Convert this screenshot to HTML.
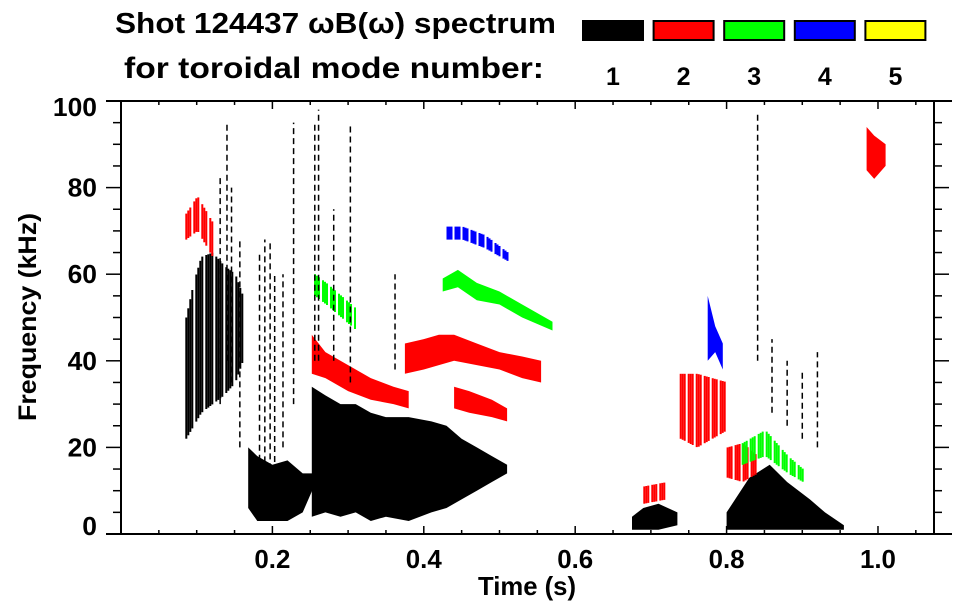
<!DOCTYPE html>
<html><head><meta charset="utf-8">
<style>
html,body{margin:0;padding:0;background:#fff;}
svg{display:block;}
text{font-family:"Liberation Sans",Arial,sans-serif;font-weight:bold;fill:#000;}
</style></head>
<body>
<svg id="chart" width="963" height="615" viewBox="0 0 963 615" xmlns="http://www.w3.org/2000/svg">
  <rect x="0" y="0" width="963" height="615" fill="#fff"/>
  <text x="115" y="33" font-size="29" textLength="441" lengthAdjust="spacingAndGlyphs">Shot 124437 ωB(ω) spectrum</text>
  <text x="124" y="78" font-size="30" textLength="420" lengthAdjust="spacingAndGlyphs">for toroidal mode number:</text>
  <g id="legend"></g>
  <g id="marks"></g>
  <g id="axes"></g>
  <text x="527" y="595" font-size="26" text-anchor="middle" textLength="98" lengthAdjust="spacingAndGlyphs">Time (s)</text>
  <text transform="translate(36,317) rotate(-90)" font-size="25" text-anchor="middle" textLength="208" lengthAdjust="spacingAndGlyphs">Frequency (kHz)</text>
</svg>
<script>
// ---- data ----
const modeNumbers = [1, 2, 3, 4, 5];
const modeColors = ["#000000", "#ff0000", "#00ff00", "#0000ff", "#ffff00"];
const xTicks = [0.2, 0.4, 0.6, 0.8, 1.0];
const xTickLabels = ["0.2", "0.4", "0.6", "0.8", "1.0"];
const yTicks = [0, 20, 40, 60, 80, 100];
const yTickLabels = ["0", "20", "40", "60", "80", "100"];

// mode features: times (s), low and high frequency edges (kHz)
const n1aT = [0.085, 0.095, 0.105, 0.12, 0.135, 0.15, 0.16];
const n1aLo = [22, 25, 28, 30, 32, 35, 40];
const n1aHi = [50, 58, 64, 65, 62, 60, 55];
const n1bT = [0.168, 0.18, 0.2, 0.22, 0.24, 0.255];
const n1bLo = [6, 3, 3, 3, 5, 11];
const n1bHi = [20, 18, 16, 17, 14, 14];
const n1cT = [0.252, 0.27, 0.29, 0.31, 0.33, 0.35, 0.38, 0.41, 0.43, 0.45, 0.47, 0.49, 0.51];
const n1cLo = [4, 5, 4, 5, 3, 4, 3, 5, 6, 8, 10, 12, 14];
const n1cHi = [34, 32, 30, 30, 28, 27, 27, 26, 25, 22, 20, 18, 16];
const n1dT = [0.675, 0.69, 0.71, 0.735];
const n1dLo = [1, 1, 1, 2];
const n1dHi = [4, 6, 7, 5];
const n1eT = [0.8, 0.83, 0.857, 0.88, 0.91, 0.93, 0.955];
const n1eLo = [1, 1, 1, 1, 1, 1, 1];
const n1eHi = [5, 13, 16, 12, 8, 5, 2];
const n2aT = [0.085, 0.1, 0.12];
const n2aLo = [68, 70, 64];
const n2aHi = [74, 78, 72];
const n2bT = [0.252, 0.27, 0.3, 0.33, 0.36, 0.38];
const n2bLo = [37, 36, 33, 31, 30, 29];
const n2bHi = [46, 42, 39, 36, 34, 33];
const n2cT = [0.375, 0.4, 0.42, 0.44, 0.47, 0.5, 0.53, 0.555];
const n2cLo = [37, 38, 39, 40, 39, 38, 36, 35];
const n2cHi = [44, 45, 46, 46, 44, 42, 41, 40];
const n2dT = [0.44, 0.46, 0.49, 0.51];
const n2dLo = [29, 28, 27, 26];
const n2dHi = [34, 33, 31, 29];
const n2eT = [0.738, 0.76, 0.78, 0.8];
const n2eLo = [22, 20, 22, 24];
const n2eHi = [37, 37, 36, 35];
const n2fT = [0.8, 0.82, 0.84];
const n2fLo = [13, 12, 14];
const n2fHi = [20, 21, 18];
const n2gT = [0.69, 0.72];
const n2gLo = [7, 8];
const n2gHi = [11, 12];
const n2hT = [0.985, 0.995, 1.01];
const n2hLo = [84, 82, 85];
const n2hHi = [94, 92, 90];
const n3aT = [0.255, 0.27, 0.29, 0.31];
const n3aLo = [55, 53, 50, 47];
const n3aHi = [60, 58, 55, 52];
const n3bT = [0.425, 0.445, 0.47, 0.5, 0.53, 0.57];
const n3bLo = [56, 57, 54, 53, 50, 47];
const n3bHi = [59, 61, 58, 56, 53, 49];
const n3cT = [0.82, 0.85, 0.88, 0.9];
const n3cLo = [16, 18, 14, 12];
const n3cHi = [21, 24, 18, 15];
const n4aT = [0.43, 0.45, 0.48, 0.51];
const n4aLo = [68, 68, 66, 63];
const n4aHi = [71, 71, 69, 65];
const n4bT = [0.775, 0.785, 0.795];
const n4bLo = [40, 42, 38];
const n4bHi = [55, 48, 44];

// thin vertical bursts (mode 1): time, low, high
const spikeT = [0.131, 0.14, 0.146, 0.157, 0.183, 0.19, 0.197, 0.203, 0.214, 0.228, 0.256, 0.261, 0.281, 0.303, 0.362, 0.841, 0.86, 0.88, 0.9, 0.92];
const spikeLo = [30, 40, 35, 20, 10, 5, 8, 12, 20, 30, 40, 40, 40, 35, 38, 40, 28, 25, 22, 20];
const spikeHi = [83, 95, 80, 68, 65, 68, 68, 60, 60, 95, 95, 98, 75, 95, 60, 97, 45, 40, 38, 42];

const features = [
  {mode: 1, name: "n1-burst-early", t: n1aT, lo: n1aLo, hi: n1aHi, striped: true, dense: true},
  {mode: 1, name: "n1-band-low", t: n1bT, lo: n1bLo, hi: n1bHi},
  {mode: 1, name: "n1-band-main", t: n1cT, lo: n1cLo, hi: n1cHi},
  {mode: 1, name: "n1-late-small", t: n1dT, lo: n1dLo, hi: n1dHi},
  {mode: 1, name: "n1-late-main", t: n1eT, lo: n1eLo, hi: n1eHi},
  {mode: 2, name: "n2-early", t: n2aT, lo: n2aLo, hi: n2aHi, striped: true},
  {mode: 2, name: "n2-chirp-1", t: n2bT, lo: n2bLo, hi: n2bHi},
  {mode: 2, name: "n2-chirp-2", t: n2cT, lo: n2cLo, hi: n2cHi},
  {mode: 2, name: "n2-chirp-3", t: n2dT, lo: n2dLo, hi: n2dHi},
  {mode: 2, name: "n2-late-stripes", t: n2eT, lo: n2eLo, hi: n2eHi, striped: true},
  {mode: 2, name: "n2-late-low", t: n2fT, lo: n2fLo, hi: n2fHi, striped: true},
  {mode: 2, name: "n2-late-small", t: n2gT, lo: n2gLo, hi: n2gHi, striped: true},
  {mode: 2, name: "n2-high", t: n2hT, lo: n2hLo, hi: n2hHi},
  {mode: 3, name: "n3-chirp-1", t: n3aT, lo: n3aLo, hi: n3aHi, striped: true},
  {mode: 3, name: "n3-chirp-2", t: n3bT, lo: n3bLo, hi: n3bHi},
  {mode: 3, name: "n3-late", t: n3cT, lo: n3cLo, hi: n3cHi, striped: true},
  {mode: 4, name: "n4-chirp", t: n4aT, lo: n4aLo, hi: n4aHi, striped: true},
  {mode: 4, name: "n4-late", t: n4bT, lo: n4bLo, hi: n4bHi}
];

// ---- axes mapping ----
const X0 = 121, X1 = 934, Y0 = 534, Y1 = 101;
const T_MIN = 0, T_MAX = 1.074, F_MIN = 0, F_MAX = 100;
function xScale(t) { return X0 + (t - T_MIN) / (T_MAX - T_MIN) * (X1 - X0); }
function yScale(f) { return Y0 - (f - F_MIN) / (F_MAX - F_MIN) * (Y0 - Y1); }
const NS = "http://www.w3.org/2000/svg";
function mk(tag, attrs, parent) {
  const e = document.createElementNS(NS, tag);
  for (const k in attrs) e.setAttribute(k, attrs[k]);
  parent.appendChild(e);
  return e;
}
function interp(ts, vs, t) {
  if (t <= ts[0]) return vs[0];
  for (let i = 1; i < ts.length; i++) {
    if (t <= ts[i]) { const u = (t - ts[i-1]) / (ts[i] - ts[i-1]); return vs[i-1] + u * (vs[i] - vs[i-1]); }
  }
  return vs[vs.length - 1];
}

// legend
const legend = document.getElementById("legend");
modeNumbers.forEach((m, i) => {
  const bx = 582 + i * 70.6;
  const r = mk("rect", {x: bx + 1, y: 21, width: 60, height: 19, fill: modeColors[i], stroke: "#000", "stroke-width": 2}, legend);
  
  
  const tx = mk("text", {x: bx + 31, y: 85, "font-size": 25, "text-anchor": "middle"}, legend);
  tx.textContent = String(m);
  
  
});

// marks
const marks = document.getElementById("marks");
features.forEach((f) => {
  const g = mk("g", {}, marks);
  
  
  const color = modeColors[f.mode - 1];
  if (!f.striped) {
    let pts = [];
    for (let i = 0; i < f.t.length; i++) pts.push(xScale(f.t[i]).toFixed(1) + "," + yScale(f.hi[i]).toFixed(1));
    for (let i = f.t.length - 1; i >= 0; i--) pts.push(xScale(f.t[i]).toFixed(1) + "," + yScale(f.lo[i]).toFixed(1));
    mk("polygon", {points: pts.join(" "), fill: color}, g);
  } else {
    const xa = xScale(f.t[0]), xb = xScale(f.t[f.t.length - 1]);
    const skip = f.dense ? 5 : 4;
    for (let x = xa, k = 0; x <= xb; x += 2, k++) {
      if (k % skip === skip - 1) continue;
      const t = T_MIN + (x - X0) / (X1 - X0) * (T_MAX - T_MIN);
      const lo = interp(f.t, f.lo, t), hi = interp(f.t, f.hi, t);
      mk("rect", {x: x.toFixed(1), y: yScale(hi).toFixed(1), width: 2, height: (yScale(lo) - yScale(hi)).toFixed(1), fill: color}, g);
    }
  }
});
spikeT.forEach((t, i) => {
  const l = mk("line", {x1: xScale(t), x2: xScale(t), y1: yScale(spikeLo[i]), y2: yScale(spikeHi[i]), stroke: "#000", "stroke-width": 1.5, "stroke-dasharray": "6 4"}, marks);
  
  
});

// axes
const axes = document.getElementById("axes");
mk("line", {x1: 106, x2: 952, y1: Y1, y2: Y1, stroke: "#000", "stroke-width": 2}, axes);
mk("line", {x1: 106, x2: 952, y1: Y0, y2: Y0, stroke: "#000", "stroke-width": 2}, axes);
mk("line", {x1: X0, x2: X0, y1: Y1, y2: Y0, stroke: "#000", "stroke-width": 2}, axes);
mk("line", {x1: X1, x2: X1, y1: Y1, y2: Y0, stroke: "#000", "stroke-width": 2}, axes);
for (let t = 0.05; t < T_MAX; t += 0.05) {
  const major = Math.abs(t / 0.2 - Math.round(t / 0.2)) < 1e-6;
  const x = xScale(t), len = major ? 8 : 4;
  mk("line", {x1: x, x2: x, y1: Y0, y2: Y0 - len, stroke: "#000", "stroke-width": 1.5}, axes);
  mk("line", {x1: x, x2: x, y1: Y1, y2: Y1 + len, stroke: "#000", "stroke-width": 1.5}, axes);
}
for (let f = 5; f < F_MAX; f += 5) {
  const major = f % 20 === 0, y = yScale(f);
  mk("line", {x1: X0, x2: X0 - (major ? 15 : 8), y1: y, y2: y, stroke: "#000", "stroke-width": 1.5}, axes);
  mk("line", {x1: X1, x2: X1 + (major ? 15 : 8), y1: y, y2: y, stroke: "#000", "stroke-width": 1.5}, axes);
}
xTicks.forEach((t, i) => {
  const tx = mk("text", {x: xScale(t), y: 568, "font-size": 26, "text-anchor": "middle", textLength: 36, lengthAdjust: "spacingAndGlyphs"}, axes);
  tx.textContent = xTickLabels[i];
  
  
});
yTicks.forEach((f, i) => {
  let yc = yScale(f);
  if (f === F_MAX) yc += 6;
  if (f === F_MIN) yc -= 8;
  const w = yTickLabels[i].length * 14.7;
  const tx = mk("text", {x: 97 - w, y: yc + 9, "font-size": 26, textLength: w, lengthAdjust: "spacingAndGlyphs"}, axes);
  tx.textContent = yTickLabels[i];
  
  
});
</script>
</body></html>
